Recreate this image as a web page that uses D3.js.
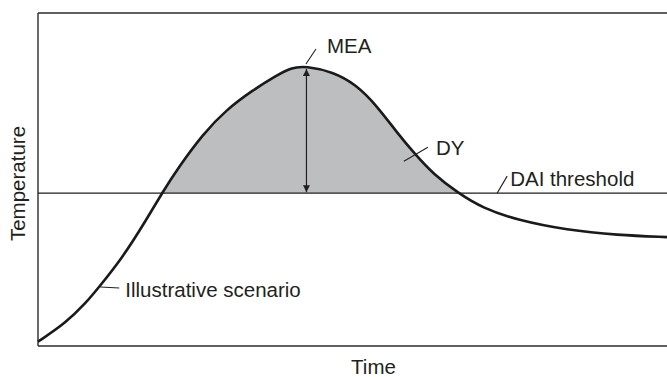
<!DOCTYPE html>
<html>
<head>
<meta charset="utf-8">
<script src="https://cdn.jsdelivr.net/npm/d3@7"></script>
<style>
  html, body { margin: 0; padding: 0; background: #fff; }
  svg { display: block; }
  text { font-family: "Liberation Sans", Arial, Helvetica, sans-serif; fill: #231f20; }
</style>
</head>
<body>
<svg id="chart" width="667" height="377"></svg>
<script>
// Illustrative temperature pathway (time and temperature in arbitrary units, 0–100)
const timeValues = [0, 4.4, 7.6, 9.7, 13.5, 17.2, 19.7, 22.4, 26.2, 29.9, 34.2, 37.8, 40.2, 42.6,
                    46.9, 50.5, 53.9, 57.1, 59.9, 62.8, 66.8, 70.7, 76.2, 84.1, 92.1, 100];
const tempValues = [1.3, 6.9, 12.9, 17.7, 26.7, 37.8, 45.9, 53.8, 63.6, 70.9, 76.9, 81.1, 83.6, 84.1,
                    82.3, 78.6, 72.1, 64.0, 57.7, 51.7, 45.9, 41.4, 37.8, 34.8, 33.3, 32.7];
const thresholdValue = 45.9;

// Annotation labels and the point on the chart each one points at
const labelNames = ["MEA", "DY", "DAI threshold", "Illustrative scenario"];
const labelTimes = [42.6, 59.6, 73.0, 9.9];
const labelTemps = [84.1, 57.0, 45.9, 17.7];

const axisTitles = ["Time", "Temperature"];

const W = 667, H = 377;
const plot = { left: 38, right: 667, top: 13, bottom: 346 };

const x = d3.scaleLinear().domain([0, 100]).range([plot.left, plot.right]);
const y = d3.scaleLinear().domain([0, 100]).range([plot.bottom, plot.top]);

const svg = d3.select("#chart");
const data = timeValues.map((t, i) => ({ t, v: tempValues[i] }));
const curve = d3.curveBasis;
const ink = "#231f20";

// Arrowhead markers for the peak-exceedance arrow
const defs = svg.append("defs");
["start", "end"].forEach(k => {
  defs.append("marker")
    .attr("id", "arrow-" + k)
    .attr("viewBox", "0 0 10 10")
    .attr("refX", 10).attr("refY", 5)
    .attr("markerWidth", 8).attr("markerHeight", 7)
    .attr("markerUnits", "userSpaceOnUse")
    .attr("orient", k === "start" ? "auto-start-reverse" : "auto")
    .append("path")
    .attr("d", "M0,0 L10,5 L0,10 Z")
    .attr("fill", ink);
});

// Only the part of the pathway above the threshold is shaded
defs.append("clipPath").attr("id", "above")
  .append("rect")
  .attr("x", plot.left).attr("y", plot.top)
  .attr("width", plot.right - plot.left)
  .attr("height", y(thresholdValue) - plot.top);

svg.append("path")
  .datum(data)
  .attr("clip-path", "url(#above)")
  .attr("fill", "#bcbec0")
  .attr("d", d3.area().curve(curve)
    .x(d => x(d.t))
    .y0(y(thresholdValue))
    .y1(d => y(d.v)));

// Frame (open on the right)
const frame = svg.append("g").attr("stroke", "#2b2b2b").attr("stroke-width", 1.4).attr("fill", "none");
frame.append("line").attr("x1", plot.left).attr("x2", plot.left).attr("y1", plot.top).attr("y2", plot.bottom);
frame.append("line").attr("x1", plot.left).attr("x2", W).attr("y1", plot.top).attr("y2", plot.top);
frame.append("line").attr("x1", plot.left).attr("x2", W).attr("y1", plot.bottom).attr("y2", plot.bottom);

// Threshold line
svg.append("line")
  .attr("x1", plot.left).attr("x2", W)
  .attr("y1", y(thresholdValue)).attr("y2", y(thresholdValue))
  .attr("stroke", ink).attr("stroke-width", 1.2);

// Peak exceedance arrow
const peak = data.reduce((a, b) => (b.v > a.v ? b : a));
svg.append("line")
  .attr("x1", x(peak.t) + 0.5).attr("x2", x(peak.t) + 0.5)
  .attr("y1", y(peak.v) + 3).attr("y2", y(thresholdValue) - 1)
  .attr("stroke", ink).attr("stroke-width", 1.2)
  .attr("marker-start", "url(#arrow-start)")
  .attr("marker-end", "url(#arrow-end)");

// Temperature pathway
svg.append("path")
  .datum(data)
  .attr("fill", "none")
  .attr("stroke", "#1a1a1a")
  .attr("stroke-width", 2.6)
  .attr("stroke-linejoin", "round")
  .attr("d", d3.line().curve(curve).x(d => x(d.t)).y(d => y(d.v)));

// Annotations: leader line ends and label position (pixels from anchor)
const leaders = [
  { a: [0, -2], b: [10, -17], tx: 21, ty: -13 },
  { a: [-9, 5], b: [15, -9], tx: 23, ty: -1 },
  { a: [0, 0], b: [10, -17], tx: 13, ty: -7 },
  { a: [0, 0], b: [19, 1], tx: 25, ty: 10 }
];
const fs = 20.5;
labelNames.forEach((name, i) => {
  const ax = x(labelTimes[i]), ay = y(labelTemps[i]);
  const L = leaders[i];
  svg.append("line")
    .attr("x1", ax + L.a[0]).attr("y1", ay + L.a[1])
    .attr("x2", ax + L.b[0]).attr("y2", ay + L.b[1])
    .attr("stroke", ink).attr("stroke-width", 1.1);
  svg.append("text")
    .attr("x", ax + L.tx)
    .attr("y", ay + L.ty)
    .attr("font-size", fs)
    .text(name);
});

// Axis titles
svg.append("text")
  .attr("x", (plot.left + plot.right) / 2 + 21)
  .attr("y", 373.5)
  .attr("text-anchor", "middle")
  .attr("font-size", fs)
  .text(axisTitles[0]);

svg.append("text")
  .attr("transform", `translate(25, ${(plot.top + plot.bottom) / 2 + 4}) rotate(-90)`)
  .attr("text-anchor", "middle")
  .attr("font-size", fs)
  .text(axisTitles[1]);
</script>
</body>
</html>
